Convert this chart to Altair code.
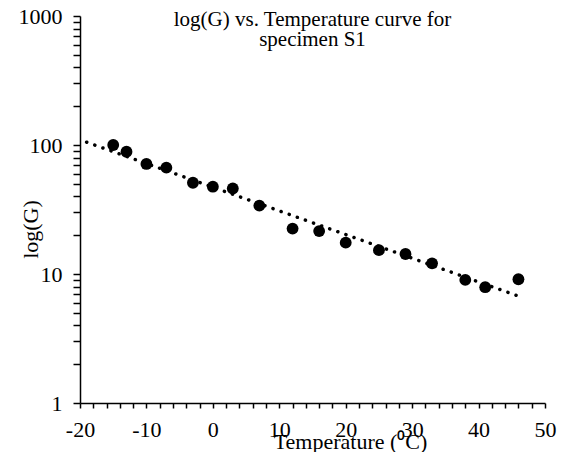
import altair as alt
import pandas as pd

# Data
temperature = [-15, -13, -10, -7, -3, 0, 3, 7, 12, 16, 20, 25, 29, 33, 38, 41, 46]
g_values = [100, 88.7, 71.3, 66.7, 51, 47.5, 46, 33.9, 22.5, 21.5, 17.5, 15.3, 14.3, 12.1, 9.0, 7.9, 9.1]

x_tick_values = list(range(-20, 51, 2))
y_tick_values = [1, 2, 3, 4, 5, 6, 7, 8, 9,
                 10, 20, 30, 40, 50, 60, 70, 80, 90,
                 100, 200, 300, 400, 500, 600, 700, 800, 900, 1000]
trend_extent = [-19, 46]
title_lines = ["log(G) vs. Temperature curve for", "specimen S1"]

df = pd.DataFrame({"T": temperature, "G": g_values})

FONT = "Liberation Serif"

x_scale = alt.Scale(domain=[-20, 50], nice=False, zero=False)
y_scale = alt.Scale(type="log", domain=[1, 1000], nice=False)

x_axis = alt.Axis(
    values=x_tick_values,
    labelExpr="datum.value % 10 === 0 ? '' + datum.value : ''",
    title="Temperature (\u2070C)",
    titleFont=FONT, titleFontSize=22, titleFontWeight="normal", titleColor="black",
    titleX=270, titleY=45, titleAlign="center", titleBaseline="alphabetic",
    labelFont=FONT, labelFontSize=22, labelColor="black",
    labelBaseline="alphabetic", labelPadding=28, labelFlush=False, labelOverlap=False,
    tickSize=5, tickWidth=1.5, tickColor="black",
    domainColor="black", domainWidth=1.5, grid=False,
)

y_axis = alt.Axis(
    values=y_tick_values,
    labelExpr="indexof([1, 10, 100, 1000], datum.value) >= 0 ? '' + datum.value : ''",
    title="log(G)",
    titleFont=FONT, titleFontSize=22, titleFontWeight="normal", titleColor="black",
    titleX=-43, titleY=213, titleAngle=270, titleAlign="center", titleBaseline="alphabetic",
    labelFont=FONT, labelFontSize=22, labelColor="black",
    labelPadding=11, labelFlush=False, labelOverlap=False,
    tickSize=7, tickWidth=1.5, tickColor="black",
    domainColor="black", domainWidth=1.5, grid=False,
)

base = alt.Chart(df)

trend = (
    base.transform_calculate(L="log(datum.G) / LN10")
    .transform_regression("T", "L", extent=trend_extent)
    .transform_calculate(Gfit="pow(10, datum.L)")
    .mark_line(color="black", strokeWidth=3.5, strokeDash=[0.1, 8.5], strokeCap="round")
    .encode(
        x=alt.X("T:Q", scale=x_scale, axis=x_axis),
        y=alt.Y("Gfit:Q", scale=y_scale, axis=y_axis),
    )
)

points = base.mark_circle(size=140, color="black", opacity=1).encode(
    x=alt.X("T:Q", scale=x_scale, axis=x_axis),
    y=alt.Y("G:Q", scale=y_scale, axis=y_axis),
)

chart = (
    alt.layer(trend, points)
    .properties(
        width=465,
        height=387,
        padding={"left": 72, "top": 8, "right": 18, "bottom": 49},
        autosize=alt.AutoSizeParams(type="none"),
        title=alt.TitleParams(
            text=title_lines,
            font=FONT, fontSize=21, fontWeight="normal", color="black",
            anchor="middle", frame="group", baseline="top",
            offset=0, dy=45, lineHeight=20,
        ),
    )
    .configure_view(stroke=None)
)

chart.save("out.html", embed_options={"renderer": "svg", "actions": False})
